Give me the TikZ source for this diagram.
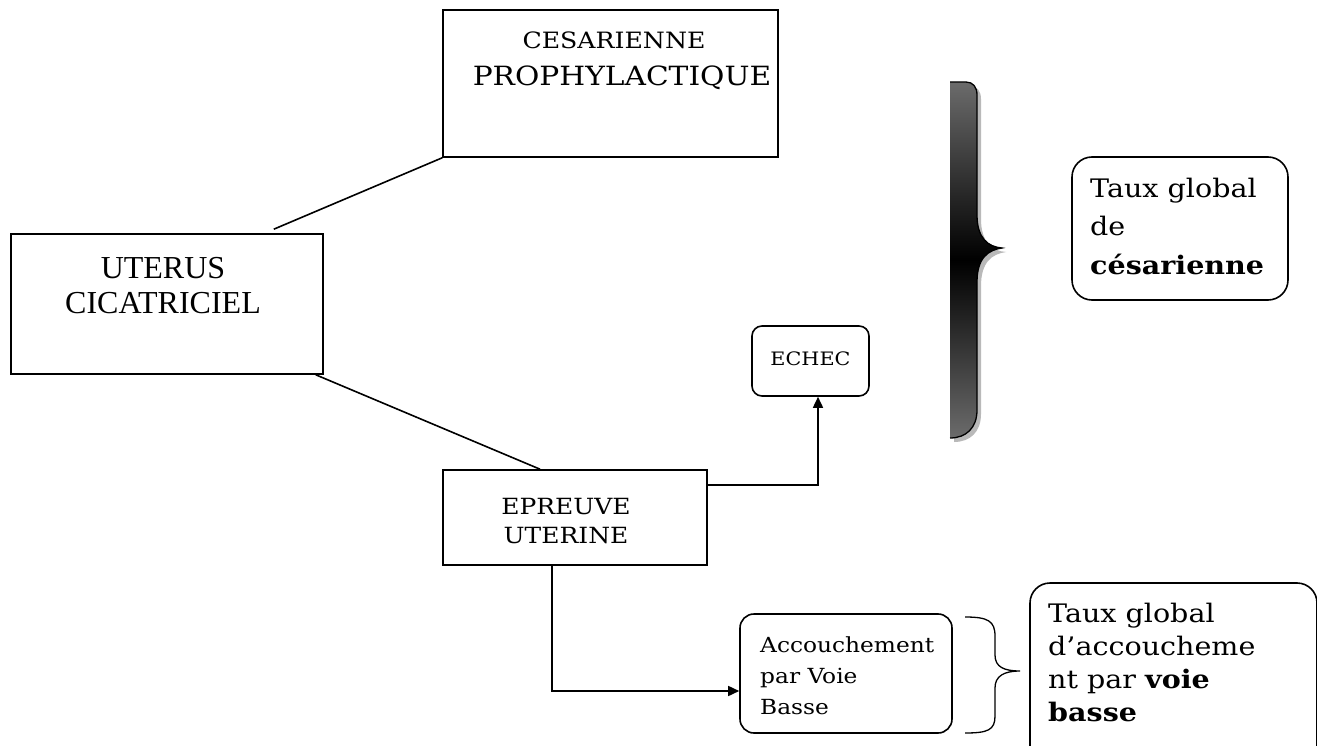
\documentclass[tikz,border=0pt]{standalone}
\usepackage{fontspec}
\setmainfont[FakeStretch=1.12]{DejaVu Serif}
\newfontfamily\timesf{Liberation Serif}
\usetikzlibrary{arrows.meta}
\tikzset{
  box/.style={draw, line width=1.6pt, inner sep=0pt},
  rbox/.style={box, rounded corners=14pt},
  txt/.style={inner sep=0pt, align=center},
  ltxt/.style={inner sep=0pt, align=left},
  conn/.style={line width=1.6pt},
  arr/.style={conn, -{Triangle[length=11pt,width=10pt]}},
}
\newcommand{\fs}[2]{\fontsize{#1}{#2}\selectfont}
\begin{document}
\begin{tikzpicture}[x=1pt,y=-1pt]
\clip (0,0) rectangle (1317,746);
\fill[white] (0,0) rectangle (1317,746);
% boxes
\node[box, minimum width=335pt, minimum height=147pt] (ces) at (610.5,83.5) {};
\node[txt, font=\fs{22.5}{24}] (ces1) at (614,40) {CESARIENNE};
\node[txt, font=\fs{26.5}{30}] (ces2) at (622,78) {PROPHYLACTIQUE};
\node[box, minimum width=312pt, minimum height=140pt] (ut) at (167,304) {};
\node[txt, font=\timesf\fs{32}{35}] (utt) at (163,286) {UTERUS\\CICATRICIEL};
\node[box, minimum width=264pt, minimum height=95pt] (ep) at (575,517.5) {};
\node[txt, font=\fs{22.3}{29}] (ept) at (566,521) {EPREUVE\\UTERINE};
\node[rbox, rounded corners=10pt, minimum width=117pt, minimum height=70pt] (ech) at (810.5,361) {};
\node[txt, font=\fs{18.5}{22}] (echt) at (810.5,359) {ECHEC};
\node[rbox, minimum width=212pt, minimum height=119pt] (acc) at (846,673.5) {};
\node[ltxt, font=\fs{20.8}{31}, anchor=west] (acct) at (760,676) {Accouchement\\par Voie\\Basse};
\node[rbox, rounded corners=20pt, minimum width=216pt, minimum height=143pt] (tg1) at (1180,228.5) {};
\node[ltxt, font=\fs{25.5}{38.5}, anchor=west] (tg1t) at (1090,226) {Taux global\\de\\\textbf{césarienne}};
\node[rbox, rounded corners=20pt, minimum width=287pt, minimum height=190pt] (tg2) at (1173.5,678) {};
\node[ltxt, font=\fs{25.5}{33}, anchor=west] (tg2t) at (1048,662) {Taux global\\d’accoucheme\\nt par \textbf{voie}\\\textbf{basse}};
% connectors
\draw[conn] (ces.south west) -- ([xshift=-50pt,yshift=4pt]ut.north east);
\draw[conn] ([xshift=-8pt]ut.south east) -- ([xshift=-35pt]ep.north);
\draw[arr] ([yshift=32.5pt]ep.east) -| ([xshift=7.5pt]ech.south);
\draw[arr] ([xshift=-23pt]ep.south) |- ([yshift=-17.5pt]acc.west);
% small brace
\draw[conn, line width=1.3pt] (965,617) .. controls (988,617) and (995,621) .. (995,636) -- (995,655)
  .. controls (995,667) and (1004,671) .. (1020,671)
  .. controls (1004,671) and (995,676) .. (995,688) -- (995,716)
  .. controls (995,730) and (988,733) .. (965,733);
% big brace
\def\bracepath{(950,82) -- (966,82) .. controls (973,82) and (977,87) .. (977,95) -- (977,215)
  .. controls (977,238) and (988,247) .. (1002,248)
  .. controls (988,250) and (977,258) .. (977,282) -- (977,410)
  .. controls (977,428) and (966,438) .. (950,438) -- cycle}
\fill[gray!55, shift={(4,4)}] \bracepath;
\shade[top color=black!58, bottom color=black!58, middle color=black] \bracepath;
\draw[line width=1.3pt] (950,82) -- (966,82) .. controls (973,82) and (977,87) .. (977,95) -- (977,215)
  .. controls (977,238) and (988,247) .. (1002,248)
  .. controls (988,250) and (977,258) .. (977,282) -- (977,410)
  .. controls (977,428) and (966,438) .. (950,438);
\end{tikzpicture}
\end{document}
